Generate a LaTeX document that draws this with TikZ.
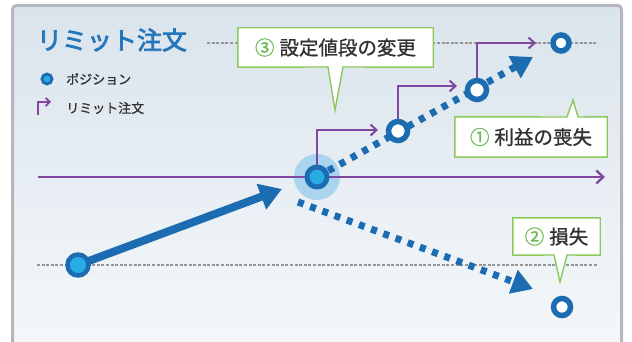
\documentclass[tikz,border=0pt]{standalone}
\usepackage{fontspec}
\setmainfont{Noto Sans CJK JP}
\newfontfamily\titlefont{Noto Sans CJK JP}[FakeBold=3]
\newfontfamily\medfont{Noto Sans CJK JP}[FakeBold=1]
\usetikzlibrary{arrows.meta,calc}
\definecolor{dblue}{RGB}{28,108,178}
\definecolor{cyanF}{RGB}{40,172,228}
\definecolor{haloC}{RGB}{150,205,238}
\definecolor{purp}{RGB}{128,72,160}
\definecolor{gborder}{RGB}{140,200,90}
\definecolor{gnum}{RGB}{105,185,80}
\definecolor{tgray}{RGB}{50,50,50}
\definecolor{titleblue}{RGB}{38,118,188}
\definecolor{panelTop}{RGB}{218,228,236}
\definecolor{panelBot}{RGB}{246,249,251}
\definecolor{panelEdge}{RGB}{180,184,188}
\definecolor{guideC}{RGB}{150,150,150}
\pgfdeclarelayer{panel}
\pgfdeclarelayer{lines}
\pgfsetlayers{panel,lines,main}
\tikzset{
  posfill/.style={circle, draw=dblue, line width=4.5pt, fill=cyanF, inner sep=0pt, minimum size=#1},
  posopen/.style={circle, draw=dblue, line width=5.5pt, fill=white, inner sep=0pt, minimum size=#1},
  halo/.style={circle, fill=haloC, opacity=0.75, inner sep=0pt, minimum size=46pt},
  guide/.style={draw=guideC, line width=1.1pt, dash pattern=on 3pt off 1.6pt},
  purparrow/.style={draw=purp, line width=2pt, -{Straight Barb[length=6pt,width=11pt,line width=2pt]}},
  axisarrow/.style={draw=purp, line width=2.5pt, -{Straight Barb[length=7pt,width=13pt,line width=2.3pt]}},
  solidarrow/.style={draw=dblue, line width=8pt, -{Triangle[length=22pt,width=26pt]}},
  dotarrow/.style={draw=dblue, line width=7pt, line cap=butt, dash pattern=on 6pt off 7pt, -{Triangle[length=21pt,width=24pt]}},
  callout/.style={draw=gborder, line width=1.4pt, fill=white},
  ctext/.style={inner sep=0pt, text=tgray, font=\medfont\fontsize{19.5pt}{22pt}\selectfont},
  legtext/.style={inner sep=0pt, anchor=west, text=tgray, font=\medfont\fontsize{13pt}{15pt}\selectfont},
}
\newcommand{\cnum}[1]{\textcolor{gnum}{#1}\hspace{5pt}}
\begin{document}
\begin{tikzpicture}[x=1pt,y=-1pt]
\useasboundingbox (0,0) rectangle (632,342);
\begin{pgfonlayer}{panel}
  \path[draw=panelEdge, line width=3pt, rounded corners=4pt, top color=panelTop, bottom color=panelBot] (12.5,5.5) rectangle (621.5,370);
  \draw[guide] (207,43) -- (598,43);
  \draw[guide] (37,265) -- (598,265);
\end{pgfonlayer}

% title and legend
\node[inner sep=0pt, text=titleblue, font=\titlefont\fontsize{25pt}{27pt}\selectfont] (title) at (112,40) {リミット注文};
\node[posfill=10pt, line width=2.8pt] (legdot) at (47,79) {};
\node[legtext] (legpos) at (66,79) {ポジション};
\coordinate (legA) at (38,115);
\coordinate (legB) at (51,102);
\node[legtext] (leglim) at (66,108) {リミット注文};

% positions
\node[posfill=21pt] (p0) at (78,265) {};
\node[posfill=20pt, line width=5pt] (pc) at (317,177) {};
\node[posopen=19pt] (p1) at (398,131) {};
\node[posopen=19pt] (p2) at (477,90) {};
\node[posopen=16pt] (p3) at (561,43) {};
\node[posopen=17pt] (pl) at (562,307) {};

\coordinate (axL) at (38,177);
\coordinate (axR) at (605,177);
\coordinate (a1) at (378,130);
\coordinate (a2) at (457,86);
\coordinate (a3) at (536,43);
\coordinate (tA) at (282,189);
\coordinate (tU) at (533,57);
\coordinate (lS) at (298,202);
\coordinate (tL) at (533,289);

% callouts text
\node[ctext, minimum width=195pt, minimum height=39pt] (c3) at (335.5,47.5) {\cnum{③}設定値段の変更};
\node[ctext, minimum width=152pt, minimum height=40pt] (c1) at (531,137) {\cnum{①}利益の喪失};
\node[ctext, minimum width=87pt, minimum height=37pt] (c2) at (556.5,236.5) {\cnum{②}損失};

\begin{pgfonlayer}{lines}
  \node[halo] (pch) at (pc) {};
  \draw[axisarrow] (axL) -- (axR);
  \draw[purparrow, line width=1.8pt, -{Straight Barb[length=4pt,width=8pt,line width=1.8pt]}] (legA) |- (legB);
  \draw[purparrow] (pc.center) |- (a1);
  \draw[purparrow] (p1.center) |- (a2);
  \draw[purparrow] (p2.center) |- (a3);
  \draw[solidarrow] (p0.center) -- (tA);
  \draw[dotarrow] (pc.center) -- (tU);
  \draw[dotarrow] (lS) -- (tL);
  \draw[callout] (c3.north west) -- (c3.north east) -- (c3.south east) -- (343,67) -- (335,110) -- (328,67) -- (c3.south west) -- cycle;
  \draw[callout] (c1.south west) -- (c1.south east) -- (c1.north east) -- (578,117) -- (573,100) -- (567,117) -- (c1.north west) -- cycle;
  \draw[callout] (c2.north west) -- (c2.north east) -- (c2.south east) -- (567,255) -- (560,282) -- (554,255) -- (c2.south west) -- cycle;
\end{pgfonlayer}
\end{tikzpicture}
\end{document}
